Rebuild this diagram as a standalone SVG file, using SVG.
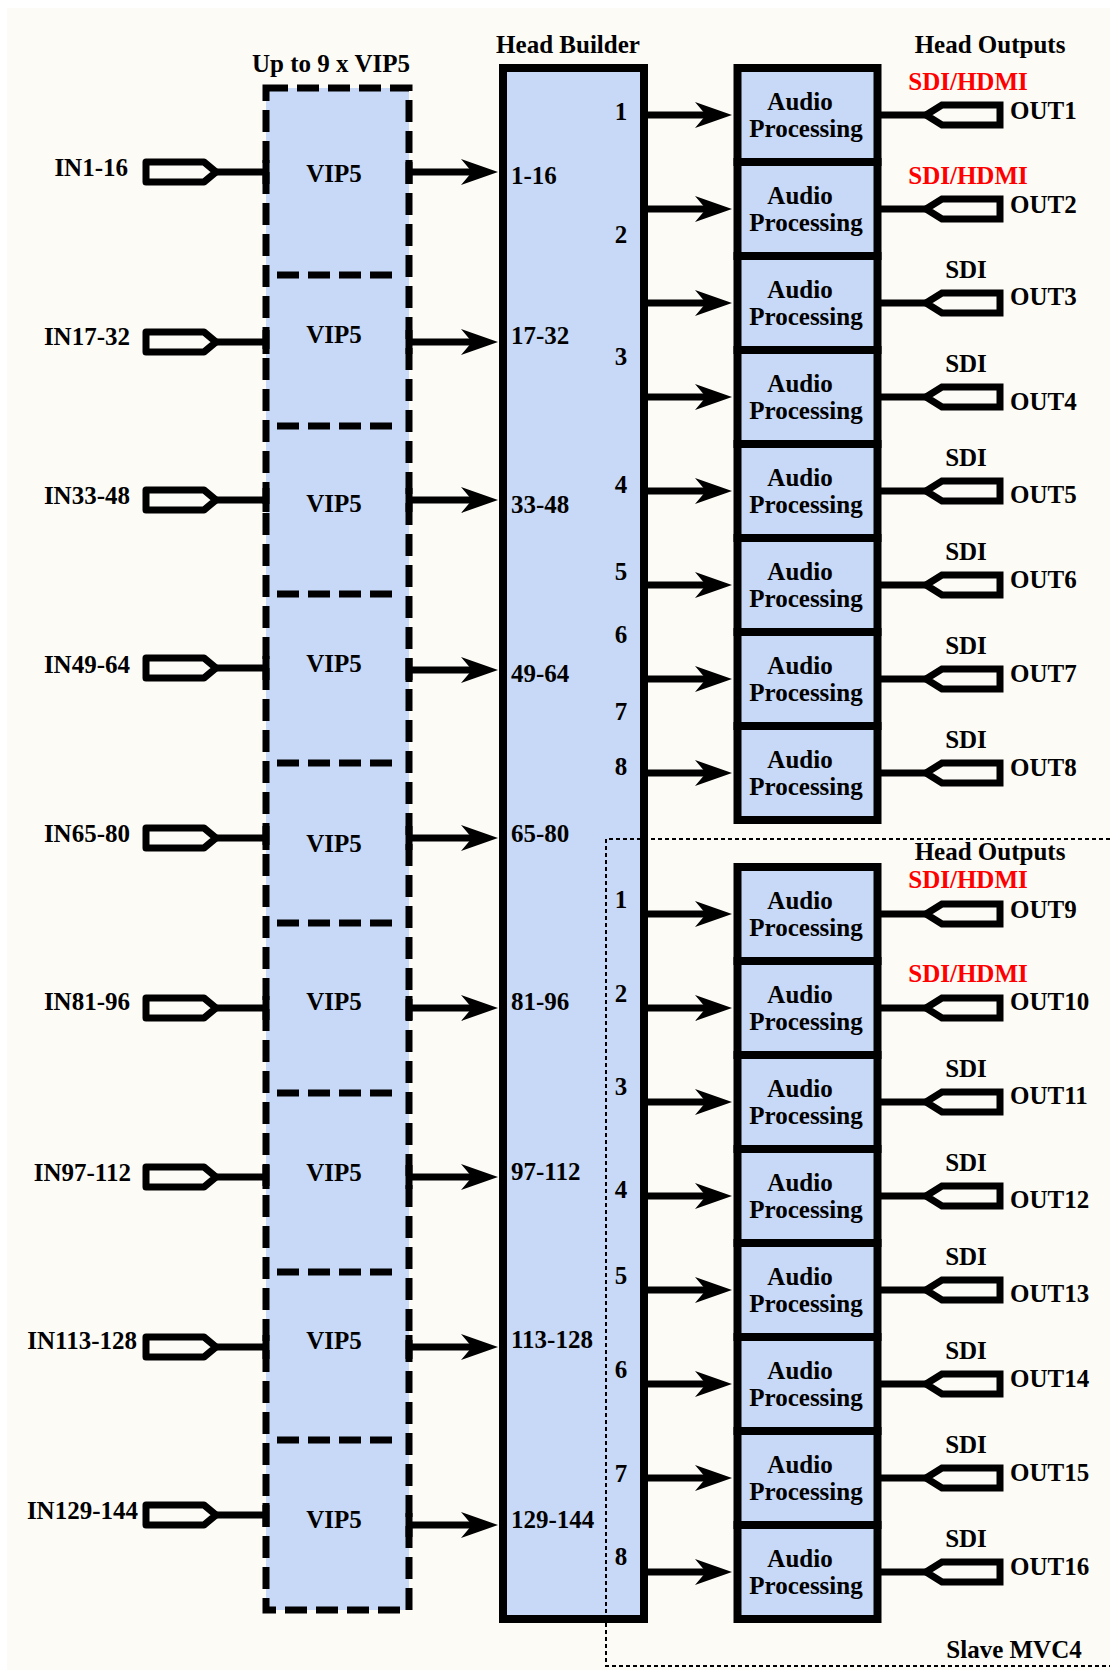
<svg xmlns="http://www.w3.org/2000/svg" width="1110" height="1670" viewBox="0 0 1110 1670">
<style>
.t{font-family:"Liberation Serif","Times New Roman",serif;font-weight:bold;font-size:25px;fill:#000}
.m{text-anchor:middle}
.e{text-anchor:end}
.red{fill:#ff0000}
.fill{fill:#c7d9f6}
.box{fill:#c7d9f6;stroke:#000;stroke-width:8}
.ln{stroke:#000;stroke-width:7;fill:none}
.arr{stroke:#000;stroke-width:7;fill:none;marker-end:url(#ah)}
.dash{stroke:#000;stroke-width:7;fill:none;stroke-dasharray:22 9}
.dot{stroke:#000;stroke-width:2;fill:none;stroke-dasharray:4 3}
.pin{fill:none;stroke:#000;stroke-width:7;stroke-linejoin:round}
.pout{fill:none;stroke:#000;stroke-width:7;stroke-linejoin:miter}
</style>
<defs>
<marker id="ah" markerUnits="userSpaceOnUse" markerWidth="40" markerHeight="30" viewBox="0 0 40 30" refX="23" refY="14" orient="auto">
<path d="M0,1 L37,14 L0,27 L11,14 Z" fill="#000"/>
</marker>
</defs>
<rect x="0" y="0" width="1110" height="1670" fill="#ffffff"/>
<rect x="7" y="8" width="1103" height="1662" fill="#fdfbf6"/>

<text class="t m" x="331" y="72">Up to 9 x VIP5</text>
<text class="t m" x="568" y="53">Head Builder</text>
<text class="t m" x="990" y="53">Head Outputs</text>

<!-- VIP5 nodes -->
<g id="vip1"><rect class="fill" x="266" y="88" width="143" height="187"/><text class="t m" x="334" y="182">VIP5</text></g>
<g id="vip2"><rect class="fill" x="266" y="275" width="143" height="151"/><text class="t m" x="334" y="343">VIP5</text></g>
<g id="vip3"><rect class="fill" x="266" y="426" width="143" height="168"/><text class="t m" x="334" y="512">VIP5</text></g>
<g id="vip4"><rect class="fill" x="266" y="594" width="143" height="169"/><text class="t m" x="334" y="672">VIP5</text></g>
<g id="vip5"><rect class="fill" x="266" y="763" width="143" height="160"/><text class="t m" x="334" y="852">VIP5</text></g>
<g id="vip6"><rect class="fill" x="266" y="923" width="143" height="170"/><text class="t m" x="334" y="1010">VIP5</text></g>
<g id="vip7"><rect class="fill" x="266" y="1093" width="143" height="179"/><text class="t m" x="334" y="1181">VIP5</text></g>
<g id="vip8"><rect class="fill" x="266" y="1272" width="143" height="168"/><text class="t m" x="334" y="1349">VIP5</text></g>
<g id="vip9"><rect class="fill" x="266" y="1440" width="143" height="170"/><text class="t m" x="334" y="1528">VIP5</text></g>
<g id="vip-frame">
<rect class="dash" x="266" y="88" width="143" height="1522"/>
<path class="dash" d="M277,275H400M277,426H400M277,594H400M277,763H400M277,923H400M277,1093H400M277,1272H400M277,1440H400"/>
</g>

<!-- Head Builder -->
<g id="head-builder">
<rect class="box" x="503" y="68" width="141" height="1551"/>
<text class="t" x="511" y="184">1-16</text>
<text class="t" x="511" y="344">17-32</text>
<text class="t" x="511" y="513">33-48</text>
<text class="t" x="511" y="682">49-64</text>
<text class="t" x="511" y="842">65-80</text>
<text class="t" x="511" y="1010">81-96</text>
<text class="t" x="511" y="1180">97-112</text>
<text class="t" x="511" y="1348">113-128</text>
<text class="t" x="511" y="1528">129-144</text>
<g class="t m">
<text x="621" y="120">1</text><text x="621" y="243">2</text><text x="621" y="365">3</text><text x="621" y="493">4</text>
<text x="621" y="580">5</text><text x="621" y="643">6</text><text x="621" y="720">7</text><text x="621" y="775">8</text>
<text x="621" y="908">1</text><text x="621" y="1002">2</text><text x="621" y="1095">3</text><text x="621" y="1198">4</text>
<text x="621" y="1284">5</text><text x="621" y="1378">6</text><text x="621" y="1482">7</text><text x="621" y="1565">8</text>
</g>
</g>

<!-- Slave MVC4 region -->
<g id="slave-mvc4">
<path class="dot" d="M1110,839H606V1666H1110"/>
<text class="t m" x="1014" y="1658">Slave MVC4</text>
<text class="t m" x="990" y="860">Head Outputs</text>
</g>

<!-- Inputs -->
<g id="in1"><polygon class="pin" points="146,162 204,162 216,172 204,182 146,182"/><text class="t e" x="128" y="176">IN1-16</text></g>
<g id="in2"><polygon class="pin" points="146,332 204,332 216,342 204,352 146,352"/><text class="t e" x="130" y="345">IN17-32</text></g>
<g id="in3"><polygon class="pin" points="146,490 204,490 216,500 204,510 146,510"/><text class="t e" x="130" y="504">IN33-48</text></g>
<g id="in4"><polygon class="pin" points="146,658 204,658 216,668 204,678 146,678"/><text class="t e" x="130" y="673">IN49-64</text></g>
<g id="in5"><polygon class="pin" points="146,828 204,828 216,838 204,848 146,848"/><text class="t e" x="130" y="842">IN65-80</text></g>
<g id="in6"><polygon class="pin" points="146,998 204,998 216,1008 204,1018 146,1018"/><text class="t e" x="130" y="1010">IN81-96</text></g>
<g id="in7"><polygon class="pin" points="146,1167 204,1167 216,1177 204,1187 146,1187"/><text class="t e" x="131" y="1181">IN97-112</text></g>
<g id="in8"><polygon class="pin" points="146,1337 204,1337 216,1347 204,1357 146,1357"/><text class="t e" x="137" y="1349">IN113-128</text></g>
<g id="in9"><polygon class="pin" points="146,1505 204,1505 216,1515 204,1525 146,1525"/><text class="t e" x="138" y="1519">IN129-144</text></g>

<!-- Audio Processing boxes -->
<g id="ap1"><rect class="box" x="737.5" y="68" width="140" height="94"/><text class="t m" x="800" y="110">Audio</text><text class="t m" x="806" y="137">Processing</text></g>
<g id="ap2"><rect class="box" x="737.5" y="162" width="140" height="94"/><text class="t m" x="800" y="204">Audio</text><text class="t m" x="806" y="231">Processing</text></g>
<g id="ap3"><rect class="box" x="737.5" y="256" width="140" height="94"/><text class="t m" x="800" y="298">Audio</text><text class="t m" x="806" y="325">Processing</text></g>
<g id="ap4"><rect class="box" x="737.5" y="350" width="140" height="94"/><text class="t m" x="800" y="392">Audio</text><text class="t m" x="806" y="419">Processing</text></g>
<g id="ap5"><rect class="box" x="737.5" y="444" width="140" height="94"/><text class="t m" x="800" y="486">Audio</text><text class="t m" x="806" y="513">Processing</text></g>
<g id="ap6"><rect class="box" x="737.5" y="538" width="140" height="94"/><text class="t m" x="800" y="580">Audio</text><text class="t m" x="806" y="607">Processing</text></g>
<g id="ap7"><rect class="box" x="737.5" y="632" width="140" height="94"/><text class="t m" x="800" y="674">Audio</text><text class="t m" x="806" y="701">Processing</text></g>
<g id="ap8"><rect class="box" x="737.5" y="726" width="140" height="94"/><text class="t m" x="800" y="768">Audio</text><text class="t m" x="806" y="795">Processing</text></g>
<g id="ap9"><rect class="box" x="737.5" y="867" width="140" height="94"/><text class="t m" x="800" y="909">Audio</text><text class="t m" x="806" y="936">Processing</text></g>
<g id="ap10"><rect class="box" x="737.5" y="961" width="140" height="94"/><text class="t m" x="800" y="1003">Audio</text><text class="t m" x="806" y="1030">Processing</text></g>
<g id="ap11"><rect class="box" x="737.5" y="1055" width="140" height="94"/><text class="t m" x="800" y="1097">Audio</text><text class="t m" x="806" y="1124">Processing</text></g>
<g id="ap12"><rect class="box" x="737.5" y="1149" width="140" height="94"/><text class="t m" x="800" y="1191">Audio</text><text class="t m" x="806" y="1218">Processing</text></g>
<g id="ap13"><rect class="box" x="737.5" y="1243" width="140" height="94"/><text class="t m" x="800" y="1285">Audio</text><text class="t m" x="806" y="1312">Processing</text></g>
<g id="ap14"><rect class="box" x="737.5" y="1337" width="140" height="94"/><text class="t m" x="800" y="1379">Audio</text><text class="t m" x="806" y="1406">Processing</text></g>
<g id="ap15"><rect class="box" x="737.5" y="1431" width="140" height="94"/><text class="t m" x="800" y="1473">Audio</text><text class="t m" x="806" y="1500">Processing</text></g>
<g id="ap16"><rect class="box" x="737.5" y="1525" width="140" height="94"/><text class="t m" x="800" y="1567">Audio</text><text class="t m" x="806" y="1594">Processing</text></g>

<!-- Outputs -->
<g id="out1"><polygon class="pout" points="926,115 942,105 1000,105 1000,125 942,125"/><text class="t m red" x="968" y="90">SDI/HDMI</text><text class="t" x="1010" y="119">OUT1</text></g>
<g id="out2"><polygon class="pout" points="926,209 942,199 1000,199 1000,219 942,219"/><text class="t m red" x="968" y="184">SDI/HDMI</text><text class="t" x="1010" y="213">OUT2</text></g>
<g id="out3"><polygon class="pout" points="926,303 942,293 1000,293 1000,313 942,313"/><text class="t m" x="966" y="278">SDI</text><text class="t" x="1010" y="305">OUT3</text></g>
<g id="out4"><polygon class="pout" points="926,397 942,387 1000,387 1000,407 942,407"/><text class="t m" x="966" y="372">SDI</text><text class="t" x="1010" y="410">OUT4</text></g>
<g id="out5"><polygon class="pout" points="926,491 942,481 1000,481 1000,501 942,501"/><text class="t m" x="966" y="466">SDI</text><text class="t" x="1010" y="503">OUT5</text></g>
<g id="out6"><polygon class="pout" points="926,585 942,575 1000,575 1000,595 942,595"/><text class="t m" x="966" y="560">SDI</text><text class="t" x="1010" y="588">OUT6</text></g>
<g id="out7"><polygon class="pout" points="926,679 942,669 1000,669 1000,689 942,689"/><text class="t m" x="966" y="654">SDI</text><text class="t" x="1010" y="682">OUT7</text></g>
<g id="out8"><polygon class="pout" points="926,773 942,763 1000,763 1000,783 942,783"/><text class="t m" x="966" y="748">SDI</text><text class="t" x="1010" y="776">OUT8</text></g>
<g id="out9"><polygon class="pout" points="926,914 942,904 1000,904 1000,924 942,924"/><text class="t m red" x="968" y="888">SDI/HDMI</text><text class="t" x="1010" y="918">OUT9</text></g>
<g id="out10"><polygon class="pout" points="926,1008 942,998 1000,998 1000,1018 942,1018"/><text class="t m red" x="968" y="982">SDI/HDMI</text><text class="t" x="1010" y="1010">OUT10</text></g>
<g id="out11"><polygon class="pout" points="926,1102 942,1092 1000,1092 1000,1112 942,1112"/><text class="t m" x="966" y="1077">SDI</text><text class="t" x="1010" y="1104">OUT11</text></g>
<g id="out12"><polygon class="pout" points="926,1196 942,1186 1000,1186 1000,1206 942,1206"/><text class="t m" x="966" y="1171">SDI</text><text class="t" x="1010" y="1208">OUT12</text></g>
<g id="out13"><polygon class="pout" points="926,1290 942,1280 1000,1280 1000,1300 942,1300"/><text class="t m" x="966" y="1265">SDI</text><text class="t" x="1010" y="1302">OUT13</text></g>
<g id="out14"><polygon class="pout" points="926,1384 942,1374 1000,1374 1000,1394 942,1394"/><text class="t m" x="966" y="1359">SDI</text><text class="t" x="1010" y="1387">OUT14</text></g>
<g id="out15"><polygon class="pout" points="926,1478 942,1468 1000,1468 1000,1488 942,1488"/><text class="t m" x="966" y="1453">SDI</text><text class="t" x="1010" y="1481">OUT15</text></g>
<g id="out16"><polygon class="pout" points="926,1572 942,1562 1000,1562 1000,1582 942,1582"/><text class="t m" x="966" y="1547">SDI</text><text class="t" x="1010" y="1575">OUT16</text></g>

<!-- Connectors -->
<g id="connectors">
<path class="ln" d="M216,172H266M216,342H266M216,500H266M216,668H266M216,838H266M216,1008H266M216,1177H266M216,1347H266M216,1515H266"/>
<path class="ln" d="M266,160V184M266,330V354M266,488V512M266,656V680M266,826V850M266,996V1020M266,1165V1189M266,1335V1359M266,1503V1527"/>
<path class="ln" d="M409,160V184M409,330V354M409,488V512M409,658V682M409,826V850M409,996V1020M409,1165V1189M409,1335V1359M409,1513V1537"/>
<line class="arr" x1="409" y1="172" x2="484" y2="172"/>
<line class="arr" x1="409" y1="342" x2="484" y2="342"/>
<line class="arr" x1="409" y1="500" x2="484" y2="500"/>
<line class="arr" x1="409" y1="670" x2="484" y2="670"/>
<line class="arr" x1="409" y1="838" x2="484" y2="838"/>
<line class="arr" x1="409" y1="1008" x2="484" y2="1008"/>
<line class="arr" x1="409" y1="1177" x2="484" y2="1177"/>
<line class="arr" x1="409" y1="1347" x2="484" y2="1347"/>
<line class="arr" x1="409" y1="1525" x2="484" y2="1525"/>
<line class="arr" x1="648" y1="115" x2="718" y2="115"/>
<line class="arr" x1="648" y1="209" x2="718" y2="209"/>
<line class="arr" x1="648" y1="303" x2="718" y2="303"/>
<line class="arr" x1="648" y1="397" x2="718" y2="397"/>
<line class="arr" x1="648" y1="491" x2="718" y2="491"/>
<line class="arr" x1="648" y1="585" x2="718" y2="585"/>
<line class="arr" x1="648" y1="679" x2="718" y2="679"/>
<line class="arr" x1="648" y1="773" x2="718" y2="773"/>
<line class="arr" x1="648" y1="914" x2="718" y2="914"/>
<line class="arr" x1="648" y1="1008" x2="718" y2="1008"/>
<line class="arr" x1="648" y1="1102" x2="718" y2="1102"/>
<line class="arr" x1="648" y1="1196" x2="718" y2="1196"/>
<line class="arr" x1="648" y1="1290" x2="718" y2="1290"/>
<line class="arr" x1="648" y1="1384" x2="718" y2="1384"/>
<line class="arr" x1="648" y1="1478" x2="718" y2="1478"/>
<line class="arr" x1="648" y1="1572" x2="718" y2="1572"/>
<path class="ln" d="M881,115H926M881,209H926M881,303H926M881,397H926M881,491H926M881,585H926M881,679H926M881,773H926M881,914H926M881,1008H926M881,1102H926M881,1196H926M881,1290H926M881,1384H926M881,1478H926M881,1572H926"/>
</g>
</svg>
